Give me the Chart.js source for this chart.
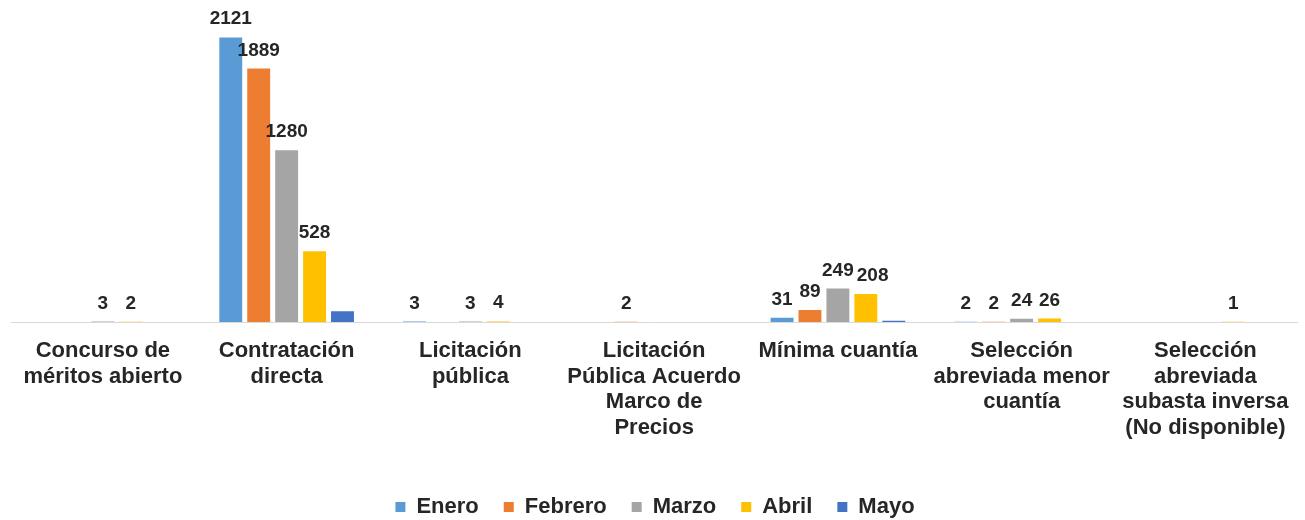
<!DOCTYPE html>
<html>
<head>
<meta charset="utf-8">
<script src="https://cdn.jsdelivr.net/npm/chart.js@4/dist/chart.umd.min.js"></script>
<style>
  html, body { margin: 0; padding: 0; background: #fff; }
  #wrap { width: 1305px; height: 520px; }
</style>
</head>
<body>
<div id="wrap"><canvas id="chart" width="1305" height="520"></canvas></div>
<script>
const categories = [
    ['Concurso de', 'méritos abierto'],
    ['Contratación', 'directa'],
    ['Licitación', 'pública'],
    ['Licitación', 'Pública Acuerdo', 'Marco de', 'Precios'],
    ['Mínima cuantía'],
    ['Selección', 'abreviada menor', 'cuantía'],
    ['Selección', 'abreviada', 'subasta inversa', '(No disponible)']
];

const enero   = [null, 2121, 3, null, 31, 2, null];
const febrero = [null, 1889, null, 2, 89, 2, null];
const marzo   = [3, 1280, 3, null, 249, 24, null];
const abril   = [2, 528, 4, null, 208, 26, 1];
const mayo    = [null, 80, null, null, 10, null, null];

const seriesNames = ['Enero', 'Febrero', 'Marzo', 'Abril', 'Mayo'];
const seriesColors = ['#5B9BD5', '#ED7D31', '#A5A5A5', '#FFC000', '#4472C4'];
const showLabels = [true, true, true, true, false];

const FONT = '"Liberation Sans", Arial, sans-serif';

// etiquetas de valor encima de cada barra (se corren a la derecha si chocan)
const valueLabels = {
    id: 'valueLabels',
    afterDatasetsDraw(chart) {
        const { ctx } = chart;
        ctx.save();
        ctx.font = 'bold 19px ' + FONT;
        ctx.fillStyle = '#262626';
        ctx.textAlign = 'center';
        ctx.textBaseline = 'alphabetic';
        const placed = [];
        chart.data.datasets.forEach((ds, i) => {
            if (!showLabels[i]) return;
            const meta = chart.getDatasetMeta(i);
            meta.data.forEach((bar, j) => {
                const v = ds.data[j];
                if (v === null || v === undefined) return;
                const text = String(v);
                const w = ctx.measureText(text).width;
                let x = bar.x;
                const y = bar.y - 13;
                placed.forEach(p => {
                    const overlapY = Math.abs(p.y - y) < 15;
                    const overlapX = (x - w / 2) < p.right + 3 && (x + w / 2) > p.left;
                    if (overlapY && overlapX) x = p.right + 3 + w / 2;
                });
                placed.push({ left: x - w / 2, right: x + w / 2, y });
                ctx.fillText(text, x, y);
            });
        });
        ctx.restore();
    }
};

const seriesData = [enero, febrero, marzo, abril, mayo];

new Chart(document.getElementById('chart').getContext('2d'), {
    type: 'bar',
    data: {
        labels: categories,
        datasets: seriesData.map((d, i) => ({
            label: seriesNames[i],
            data: d,
            backgroundColor: seriesColors[i],
            barPercentage: 0.82,
            categoryPercentage: 0.76
        }))
    },
    options: {
        responsive: false,
        animation: false,
        layout: { padding: { left: 11, right: 6, top: 0, bottom: -8 } },
        scales: {
            x: {
                grid: { display: false, drawTicks: false },
                border: { display: true, color: '#D9D9D9', width: 1 },
                ticks: {
                    color: '#262626',
                    font: { family: FONT, size: 22, weight: 'bold', lineHeight: 1.17 },
                    padding: 16,
                    maxRotation: 0,
                    autoSkip: false
                },
                afterFit: scale => { scale.height = 149; }
            },
            y: {
                display: false,
                min: 0,
                max: 2400
            }
        },
        plugins: {
            legend: {
                position: 'bottom',
                labels: {
                    color: '#262626',
                    font: { family: FONT, size: 22, weight: 'bold' },
                    boxWidth: 10,
                    boxHeight: 10,
                    padding: 25
                }
            },
            tooltip: { enabled: false }
        }
    },
    plugins: [valueLabels]
});
</script>
</body>
</html>
